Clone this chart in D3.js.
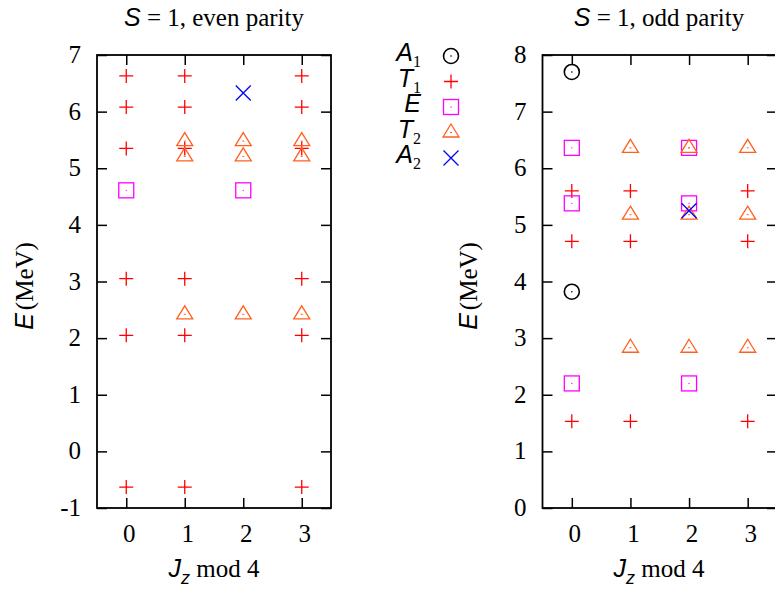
<!DOCTYPE html>
<html><head><meta charset="utf-8">
<script src="https://cdnjs.cloudflare.com/ajax/libs/d3/7.8.5/d3.min.js"></script>
<style>
html,body{margin:0;padding:0;background:#fff;}
svg{display:block;}
.serif{font-family:"Liberation Serif","Times New Roman",serif;font-style:normal;}
.sans{font-family:"Liberation Sans",Arial,sans-serif;font-style:italic;}
</style></head>
<body>
<svg id="chart" width="775" height="590"></svg>
<script>
// ---------- data (index of each outer array = Jz mod 4) ----------
const jzTicks = [0, 1, 2, 3];
const evenYTicks = [-1, 0, 1, 2, 3, 4, 5, 6, 7];
const oddYTicks = [0, 1, 2, 3, 4, 5, 6, 7, 8];

const evenA1 = [[], [], [], []];
const evenT1 = [[6.63, 6.08, 5.35, 3.05, 2.05, -0.63], [6.63, 6.08, 5.35, 3.05, 2.05, -0.63], [], [6.63, 6.08, 5.35, 3.05, 2.05, -0.63]];
const evenE  = [[4.61], [], [4.61], []];
const evenT2 = [[], [5.48, 5.21, 2.42], [5.48, 5.21, 2.42], [5.48, 5.21, 2.42]];
const evenA2 = [[], [], [6.33], []];

const oddA1 = [[7.7, 3.82], [], [], []];
const oddT1 = [[5.6, 4.71, 1.53], [5.6, 4.71, 1.53], [], [5.6, 4.71, 1.53]];
const oddE  = [[6.36, 5.38, 2.2], [], [6.36, 5.38, 2.2], []];
const oddT2 = [[], [6.36, 5.18, 2.83], [6.36, 5.18, 2.83], [6.36, 5.18, 2.83]];
const oddA2 = [[], [], [5.25], []];

const irreps = ["A1", "T1", "E", "T2", "A2"];

// ---------- styles ----------
const colors = {A1: "#000000", T1: "#ff0000", E: "#ff00ff", T2: "#ff6020", A2: "#0000ff"};
const svg = d3.select("#chart");
const FS = 25;

function marker(g, type, x, y) {
  const c = colors[type];
  const sw = 1.3;
  if (type === "A1") {
    g.append("circle").attr("cx", x).attr("cy", y).attr("r", 7.5)
      .attr("fill", "none").attr("stroke", c).attr("stroke-width", 1.6);
    g.append("circle").attr("cx", x).attr("cy", y).attr("r", 0.8).attr("fill", c);
  } else if (type === "T1") {
    g.append("path").attr("d", `M${x-7},${y}H${x+7}M${x},${y-7}V${y+7}`)
      .attr("stroke", c).attr("stroke-width", sw).attr("fill", "none");
  } else if (type === "E") {
    g.append("rect").attr("x", x - 7.5).attr("y", y - 7.5).attr("width", 15).attr("height", 15)
      .attr("fill", "none").attr("stroke", c).attr("stroke-width", sw);
    g.append("circle").attr("cx", x).attr("cy", y).attr("r", 0.7).attr("fill", c);
  } else if (type === "T2") {
    g.append("path").attr("d", `M${x},${y-8.5}L${x+8},${y+4.5}L${x-8},${y+4.5}Z`)
      .attr("fill", "none").attr("stroke", c).attr("stroke-width", sw);
    g.append("rect").attr("x", x - 1).attr("y", y - 0.5).attr("width", 2).attr("height", 1).attr("fill", c);
  } else if (type === "A2") {
    g.append("path").attr("d", `M${x-7.5},${y-7.5}L${x+7.5},${y+7.5}M${x-7.5},${y+7.5}L${x+7.5},${y-7.5}`)
      .attr("stroke", c).attr("stroke-width", sw).attr("fill", "none");
  }
}

function panel(opts) {
  const x = d3.scaleLinear().domain([-0.5, 3.5]).range([opts.left, opts.right]);
  const y = d3.scaleLinear().domain(opts.yDomain).range([508, 55]);
  const g = svg.append("g");
  const tl = 10;

  const axB = d3.axisBottom(x).tickValues(jzTicks).tickSize(-tl).tickFormat("");
  const axT = d3.axisTop(x).tickValues(jzTicks).tickSize(-tl).tickFormat("");
  const axL = d3.axisLeft(y).tickValues(opts.yTicks).tickSize(-tl).tickFormat("");
  const axR = d3.axisRight(y).tickValues(opts.yTicks).tickSize(-tl).tickFormat("");
  const gb = g.append("g").attr("transform", `translate(0,${y.range()[0]})`).call(axB);
  const gt = g.append("g").attr("transform", `translate(0,${y.range()[1]})`).call(axT);
  const gl = g.append("g").attr("transform", `translate(${opts.left},0)`).call(axL);
  const gr = g.append("g").attr("transform", `translate(${opts.right},0)`).call(axR);
  [gb, gt, gl, gr].forEach(a => {
    a.select(".domain").remove();
    a.selectAll(".tick line").attr("stroke", "#000").attr("stroke-width", 1.5);
  });
  g.append("rect").attr("x", opts.left).attr("y", 55)
    .attr("width", opts.right - opts.left).attr("height", 508 - 55)
    .attr("fill", "none").attr("stroke", "#000").attr("stroke-width", 1.8);

  g.selectAll(".ylab").data(opts.yTicks).enter().append("text")
    .attr("class", "serif").attr("x", opts.left - 16).attr("y", d => y(d) + 8)
    .attr("text-anchor", "end").attr("font-size", FS).text(d => d);
  g.selectAll(".xlab").data(jzTicks).enter().append("text")
    .attr("class", "serif").attr("x", d => x(d) + 3).attr("y", 542)
    .attr("text-anchor", "middle").attr("font-size", FS).text(d => d);

  const t = g.append("text").attr("x", opts.titleX).attr("y", 26).attr("text-anchor", "middle")
    .attr("font-size", FS);
  t.append("tspan").attr("class", "sans").text("S");
  t.append("tspan").attr("class", "serif").text(" = 1, " + opts.parity + " parity");

  const xl = g.append("text").attr("x", opts.titleX).attr("y", 577).attr("text-anchor", "middle").attr("font-size", FS);
  xl.append("tspan").attr("class", "sans").text("J");
  xl.append("tspan").attr("class", "sans").attr("font-size", 18).attr("dy", 7).text("z");
  xl.append("tspan").attr("class", "serif").attr("dy", -7).text(" mod 4");

  const yl = g.append("text").attr("transform", `translate(${opts.ylabX},286) rotate(-90)`)
    .attr("text-anchor", "middle").attr("font-size", FS);
  yl.append("tspan").attr("class", "sans").text("E");
  yl.append("tspan").attr("class", "serif").attr("dx", 3).text("(MeV)");

  const pg = g.append("g");
  opts.series.forEach(([type, arr]) => {
    arr.forEach((vals, jz) => vals.forEach(v => marker(pg, type, x(jz), y(v))));
  });
}

panel({left: 97, right: 331, yDomain: [-1, 7], yTicks: evenYTicks, parity: "even", titleX: 214, ylabX: 33,
  series: [["A1", evenA1], ["T1", evenT1], ["E", evenE], ["T2", evenT2], ["A2", evenA2]]});
panel({left: 542.5, right: 777, yDomain: [0, 8], yTicks: oddYTicks, parity: "odd", titleX: 659, ylabX: 477,
  series: [["A1", oddA1], ["T1", oddT1], ["E", oddE], ["T2", oddT2], ["A2", oddA2]]});

// legend
const legRows = [56, 81.5, 107, 132.5, 158];
const lg = svg.append("g");
irreps.forEach((name, i) => {
  const yy = legRows[i];
  const t = lg.append("text").attr("x", 421).attr("y", yy + 5).attr("text-anchor", "end");
  t.append("tspan").attr("class", "sans").attr("font-size", 25).text(name[0]);
  if (name.length > 1) {
    t.append("tspan").attr("class", "serif").attr("font-size", 16).attr("dy", 6).text(name[1]);
  }
  marker(lg, name, 451, yy);
});
</script>
</body></html>
